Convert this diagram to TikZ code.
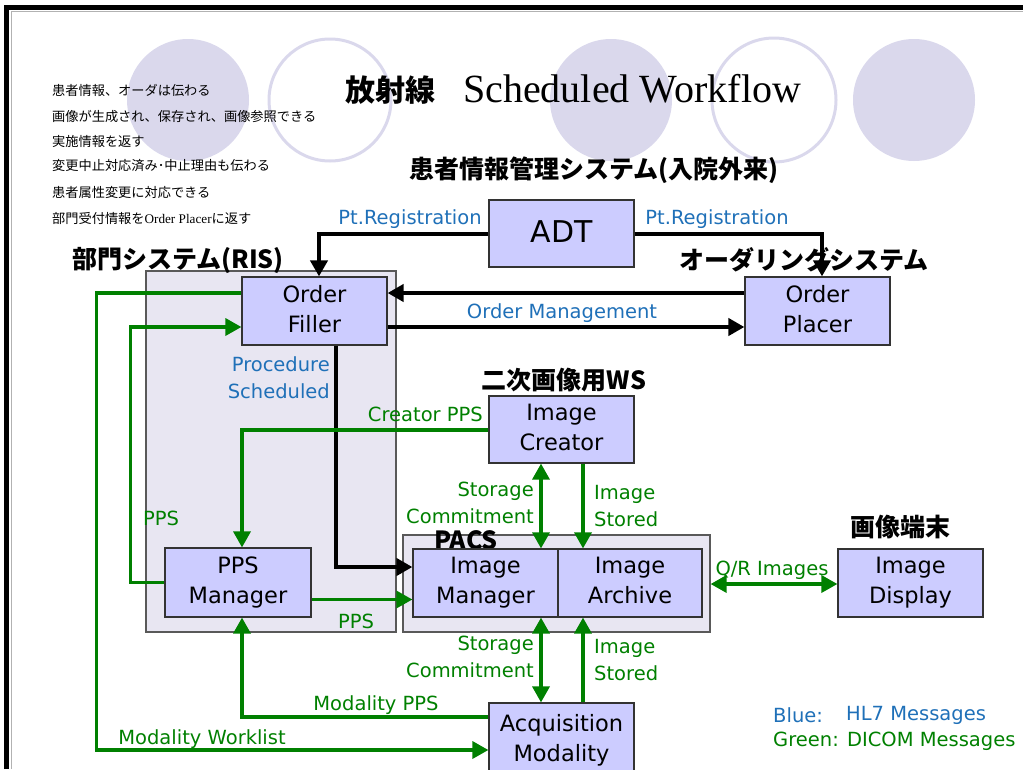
\documentclass[tikz,border=0pt]{standalone}
\usepackage{fontspec}
\setmainfont{DejaVu Sans}
\newfontfamily\cjk{Noto Sans CJK JP}
\newfontfamily\tnr{Liberation Serif}
\usetikzlibrary{arrows.meta}
\definecolor{hlblue}{RGB}{31,112,184}
\definecolor{dgreen}{RGB}{0,128,0}
\definecolor{boxfill}{RGB}{204,204,255}
\definecolor{regfill}{RGB}{232,230,242}
\definecolor{circ}{RGB}{218,216,236}
\newcommand\myboxfont{\fontsize{22.5}{30}\selectfont}
\newcommand\mylblfont{\fontsize{19.5}{27}\selectfont}
\newcommand\myhead{\cjk\bfseries\fontsize{25}{28}\selectfont}
\begin{document}
\begin{tikzpicture}[x=1pt,y=-1pt,
  box/.style={draw=black!80, line width=1.2pt, fill=boxfill, minimum width=145pt, minimum height=68pt, inner sep=0pt, align=center, font=\myboxfont, execute at begin node={\rule{0pt}{24pt}}, execute at end node={\vphantom{gy}}},
  region/.style={draw=black!65, line width=1.2pt, fill=regfill, inner sep=0pt},
  lbl/.style={font=\mylblfont, inner sep=0pt},
  bl/.style={lbl, text=hlblue},
  gr/.style={lbl, text=dgreen},
  head/.style={font=\myhead, inner sep=0pt},
  note/.style={font=\cjk\fontsize{13.2}{15}\selectfont, anchor=west, inner sep=0pt},
  blk/.style={draw=black, line width=4pt, -{Triangle[length=16pt,width=17pt]}},
  grn/.style={draw=dgreen, line width=3.4pt, -{Triangle[length=16pt,width=17pt]}},
  grn2/.style={draw=dgreen, line width=3.4pt, {Triangle[length=16pt,width=17pt]}-{Triangle[length=16pt,width=17pt]}},
  circf/.style={fill=circ, draw=none},
  circo/.style={draw=circ, line width=3pt}
]
\useasboundingbox (0,0) rectangle (1023,769);
% background circles
\fill[circf] (188,100) circle[radius=61pt];
\draw[circo] (330,100) circle[radius=61pt];
\fill[circf] (611,100) circle[radius=61pt];
\draw[circo] (774,100) circle[radius=62pt];
\fill[circf] (914,100) circle[radius=61pt];
% frame
\draw[black!30, line width=1pt] (11,769) -- (11,11) -- (1023,11);
\draw[line width=5pt] (6.5,769) -- (6.5,7.5) -- (1023,7.5);
% title
\node[font=\cjk\bfseries\fontsize{30}{32}\selectfont, inner sep=0pt] (t1) at (390,90) {放射線};
\node[font=\tnr\fontsize{40}{42}\selectfont, anchor=base west, inner sep=0pt] (t2) at (463,102) {Scheduled Workflow};
% notes
\node[note] (n1) at (52,90) {患者情報、オーダは伝わる};
\node[note] (n2) at (52,116) {画像が生成され、保存され、画像参照できる};
\node[note] (n3) at (52,141) {実施情報を返す};
\node[note] (n4) at (52,166) {変更中止対応済み･中止理由も伝わる};
\node[note] (n5) at (52,192) {患者属性変更に対応できる};
\node[note] (n6) at (52,218) {部門受付情報を{\tnr Order Placer}に返す};
% regions
\node[region, minimum width=250pt, minimum height=361pt] (ris) at (271,451.5) {};
\node[region, minimum width=307pt, minimum height=97pt] (pacs) at (556.5,583.5) {};
% headings
\node[head] (h1) at (594,170) {患者情報管理システム(入院外来)};
\node[head] (h2) at (178,260) {部門システム(RIS)};
\node[head] (h3) at (804,260) {オーダリングシステム};
\node[head] (h4) at (564,380) {二次画像用WS};
\node[head] (h5) at (466,540) {PACS};
\node[head] (h6) at (900,527) {画像端末};
% boxes
\node[box, minimum height=67pt, font=\fontsize{30}{32}\selectfont, execute at begin node={}, execute at end node={}] (adt) at (561.5,233.5) {ADT};
\node[box] (filler) at (314.5,311) {Order\\Filler};
\node[box] (placer) at (817.5,311) {Order\\Placer};
\node[box, minimum height=67pt] (creator) at (561.5,429.5) {Image\\Creator};
\node[box, minimum width=146pt, minimum height=69pt] (ppsmgr) at (238,582.5) {PPS\\Manager};
\node[box] (imgmgr) at (485.5,583) {Image\\Manager};
\node[box, minimum width=144pt] (archive) at (630,583) {Image\\Archive};
\node[box] (display) at (910.5,583) {Image\\Display};
\node[box, minimum height=74pt] (acq) at (561.5,740) {Acquisition\\Modality};
% black connectors
\draw[blk] (adt.west) -| ([xshift=4.5pt]filler.north);
\draw[blk] (adt.east) -| ([xshift=4.5pt]placer.north);
\draw[blk] ([yshift=18pt]placer.west) -- ([yshift=18pt]filler.west -| filler.east);
\draw[blk] ([yshift=-16pt]filler.east) -- ([yshift=-16pt]placer.west);
\draw[blk] ([xshift=21.5pt]filler.south) |- ([yshift=16pt]imgmgr.west);
% green connectors
\draw[grn] (creator.west |- 0,430) -| ([xshift=4pt]ppsmgr.north);
\draw[grn2] ([xshift=-20.5pt]creator.south) -- ([xshift=-20.5pt]creator.south |- imgmgr.north);
\draw[grn] ([xshift=21.5pt]creator.south) -- ([xshift=21.5pt]creator.south |- archive.north);
\draw[grn2] ([xshift=-20.5pt]acq.north) -- ([xshift=-20.5pt]acq.north |- imgmgr.south);
\draw[grn] ([xshift=21.5pt]acq.north) -- ([xshift=21.5pt]acq.north |- archive.south);
\draw[grn] ([yshift=23pt]acq.west) -| ([xshift=4pt]ppsmgr.south);
\draw[grn] ([yshift=18pt]filler.west) -- ++(-145,0) |- ([yshift=-10pt]acq.west);
\draw[grn] (ppsmgr.west) -- ++(-34,0) |- ([yshift=-16pt]filler.west);
\draw[grn] ([yshift=-17pt]ppsmgr.east) -- ([yshift=-17pt]ppsmgr.east -| imgmgr.west);
\draw[grn2] (pacs.east |- 0,584) -- (display.west |- 0,584);
% labels
\node[bl] (l1) at (410,219) {Pt.Registration};
\node[bl] (l2) at (717,219) {Pt.Registration};
\node[bl] (l3) at (562,313) {Order Management};
\node[bl, anchor=east, align=right] (l4) at (330,378) {Procedure\\Scheduled};
\node[gr, anchor=east] (l5) at (483,414) {Creator PPS};
\node[gr, anchor=east, align=right] (l6) at (534,503) {Storage\\Commitment};
\node[gr, anchor=west, align=left] (l7) at (594,506) {Image\\Stored};
\node[gr, anchor=east, align=right] (l8) at (534,657) {Storage\\Commitment};
\node[gr, anchor=west, align=left] (l9) at (594,660) {Image\\Stored};
\node[gr] (l10) at (161,518) {PPS};
\node[gr] (l11) at (356,621) {PPS};
\node[gr] (l12) at (376,705) {Modality PPS};
\node[gr] (l13) at (202,739) {Modality Worklist};
\node[gr] (l14) at (772,570) {Q/R Images};
% legend
\node[bl, anchor=west] (lg1) at (773,715) {Blue:};
\node[bl, anchor=west] (lg2) at (846,715) {HL7 Messages};
\node[gr, anchor=west] (lg3) at (773,741) {Green: DICOM Messages};
\end{tikzpicture}
\end{document}
